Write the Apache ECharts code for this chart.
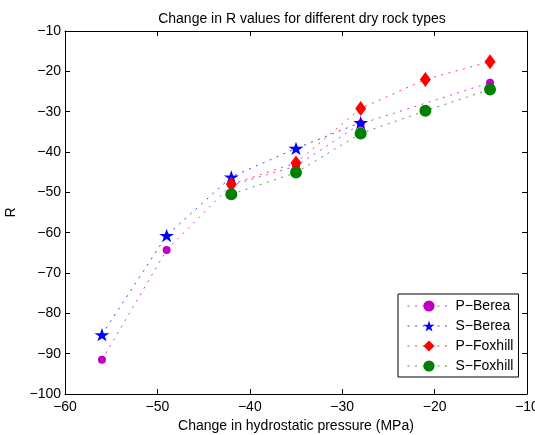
<!DOCTYPE html>
<html>
<head>
<meta charset="utf-8">
<script src="https://cdn.jsdelivr.net/npm/echarts@6/dist/echarts.min.js"></script>
<style>html,body{margin:0;padding:0;background:#fff;}#chart{width:535px;height:435px;}</style>
</head>
<body>
<div id="chart"></div>
<script>
const pressure = [-56, -49, -42, -35, -28, -21, -14];
const pBerea   = [-91.5, -64.3, -48.2, -43.5, -33.0, null, -22.8];
const sBerea   = [-85.3, -60.7, -46.2, -39.1, -32.7, null, null];
const pFoxhill = [null, null, -48.0, -42.7, -29.2, -22.0, -17.6];
const sFoxhill = [null, null, -50.5, -45.1, -35.4, -29.8, -24.5];
const seriesNames = ['P\u2212Berea', 'S\u2212Berea', 'P\u2212Foxhill', 'S\u2212Foxhill'];
const seriesColors = ['#bf00bf', '#0000ff', '#ff0000', '#008000'];
const xTicks = [-60, -50, -40, -30, -20, -10];
const yTicks = [-100, -90, -80, -70, -60, -50, -40, -30, -20, -10];

const FONT = 'Liberation Sans, Arial, Helvetica, sans-serif';
const STAR = 'path://M50 0 L61.23 34.55 L97.55 34.55 L68.16 55.9 L79.39 90.45 L50 69.1 L20.61 90.45 L31.84 55.9 L2.45 34.55 L38.77 34.55 Z';
const DOT = [2, 5.5];

function pairs(ys) {
  const out = [];
  ys.forEach((y, i) => { if (y !== null) out.push([pressure[i], y]); });
  return out;
}
const fmt = v => String(v).replace('-', '\u2212');

function mk(i, ys, symbol, size) {
  const color = seriesColors[i];
  return {
    name: seriesNames[i], type: 'line', data: pairs(ys),
    symbol: symbol, symbolSize: size, symbolKeepAspect: true,
    itemStyle: { color: color, opacity: 1 },
    lineStyle: { color: color, width: 1, type: DOT, opacity: 0.75 },
    emphasis: { disabled: true }, animation: false
  };
}

const chart = echarts.init(document.getElementById('chart'), null, { renderer: 'canvas' });
const axisCommon = {
  axisLine: { show: true, lineStyle: { color: '#000', width: 1 } },
  axisTick: { show: true, inside: true, length: 5, lineStyle: { color: '#000' } },
  splitLine: { show: false }
};
chart.setOption({
  animation: false,
  backgroundColor: '#fff',
  title: {
    text: 'Change in R values for different dry rock types',
    left: 297, top: 7, textAlign: 'center',
    textStyle: { fontFamily: FONT, fontSize: 14, fontWeight: 'normal', color: '#000' }
  },
  grid: { left: 65, right: 8, top: 31, bottom: 41, containLabel: false, outerBoundsMode: 'none' },
  legend: {
    orient: 'vertical', left: 398, top: 294,
    padding: [5, 5, 4, 9], itemGap: 6, itemWidth: 43, itemHeight: 14,
    borderColor: '#000', borderWidth: 1, backgroundColor: '#fff',
    textStyle: { fontFamily: FONT, fontSize: 14, color: '#000' },
    data: seriesNames.map((n, i) => ({
      name: n,
      lineStyle: { color: seriesColors[i], width: 1, type: DOT, opacity: 0.75 },
      itemStyle: { color: seriesColors[i] }
    }))
  },
  xAxis: [
    Object.assign({
      type: 'value', min: xTicks[0], max: xTicks[xTicks.length - 1], interval: 10,
      name: 'Change in hydrostatic pressure (MPa)', nameLocation: 'middle', nameGap: 23,
      nameTextStyle: { fontFamily: FONT, fontSize: 14, color: '#000' },
      axisLabel: { formatter: fmt, fontFamily: FONT, fontSize: 14, color: '#000', margin: 6 }
    }, axisCommon),
    Object.assign({
      type: 'value', position: 'top', min: xTicks[0], max: xTicks[xTicks.length - 1], interval: 10,
      axisLabel: { show: false }
    }, axisCommon)
  ],
  yAxis: [
    Object.assign({
      type: 'value', min: yTicks[0], max: yTicks[yTicks.length - 1], interval: 10,
      name: 'R', nameLocation: 'middle', nameGap: 44,
      nameTextStyle: { fontFamily: FONT, fontSize: 14, color: '#000' },
      axisLabel: { formatter: fmt, fontFamily: FONT, fontSize: 14, color: '#000', margin: 4 }
    }, axisCommon),
    Object.assign({
      type: 'value', position: 'right', min: yTicks[0], max: yTicks[yTicks.length - 1], interval: 10,
      axisLabel: { show: false }
    }, axisCommon)
  ],
  series: [
    mk(0, pBerea, 'circle', 8),
    mk(1, sBerea, STAR, [15, 14]),
    mk(2, pFoxhill, 'diamond', [11, 15]),
    mk(3, sFoxhill, 'circle', 12)
  ]
});
</script>
</body>
</html>
